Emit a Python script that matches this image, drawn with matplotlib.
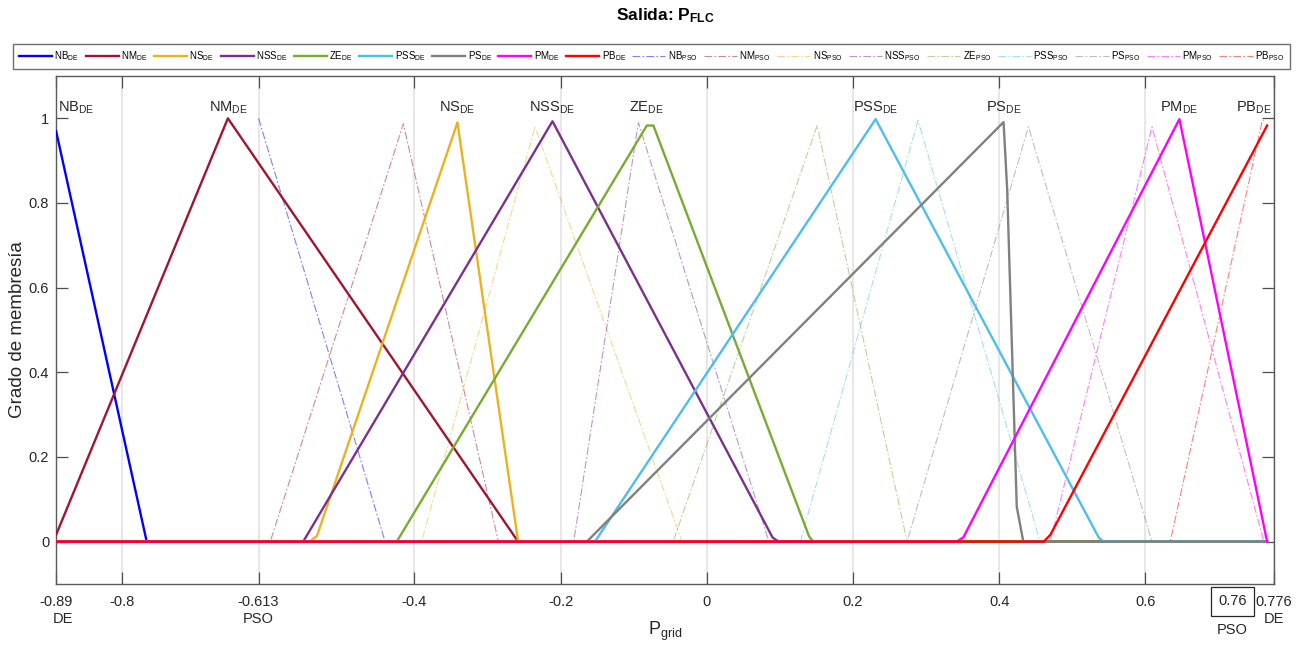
import numpy as np
import matplotlib
matplotlib.use("Agg")
import matplotlib.pyplot as plt

plt.rcParams['font.family'] = ['Liberation Sans', 'DejaVu Sans']
plt.rcParams['mathtext.default'] = 'regular'

# fuzzy set names (output P_FLC)
sets = ['NB', 'NM', 'NS', 'NSS', 'ZE', 'PSS', 'PS', 'PM', 'PB']
colors = ['#0000FF', '#A2142F', '#EDB120', '#7E2F8E', '#77AC30',
          '#4DBEEE', '#808080', '#FF00FF', '#FF0000']

# membership breakpoints tuned by DE
de_x = [[-0.89, -0.766],
        [-0.89, -0.655, -0.258],
        [-0.543, -0.533, -0.341, -0.258],
        [-0.552, -0.211, 0.090, 0.098],
        [-0.424, -0.082, -0.073, 0.140, 0.146],
        [-0.153, 0.231, 0.536, 0.543],
        [-0.164, 0.406, 0.411, 0.424, 0.433],
        [0.342, 0.351, 0.6465, 0.7665],
        [0.461, 0.470, 0.7665]]
de_y = [[0.97, 0.0],
        [0.016, 1.0, 0.0],
        [0.0, 0.014, 0.99, 0.0],
        [0.0, 0.993, 0.01, 0.0],
        [0.0, 0.983, 0.983, 0.012, 0.0],
        [0.0, 0.998, 0.01, 0.0],
        [0.0, 0.991, 0.83, 0.083, 0.0],
        [0.0, 0.01, 0.998, 0.0],
        [0.0, 0.016, 0.983]]

# membership breakpoints tuned by PSO
pso_x = [[-0.613, -0.44],
         [-0.597, -0.415, -0.285],
         [-0.390, -0.235, -0.034],
         [-0.182, -0.0935, 0.085],
         [-0.046, 0.151, 0.274],
         [0.128, 0.289, 0.456],
         [0.274, 0.440, 0.609],
         [0.470, 0.609, 0.762],
         [0.634, 0.76]]
pso_y = [[1.0, 0.0],
         [0.0, 0.987, 0.0],
         [0.0, 0.98, 0.0],
         [0.0, 0.99, 0.0],
         [0.0, 0.983, 0.0],
         [0.0, 0.995, 0.0],
         [0.0, 0.98, 0.0],
         [0.0, 0.98, 0.0],
         [0.0, 0.995]]

de_range = (-0.89, 0.7665)
pso_range = (-0.613, 0.76)

xtick_vals = [-0.89, -0.8, -0.613, -0.4, -0.2, 0, 0.2, 0.4, 0.6, 0.776]
xtick_text = ['-0.89\nDE', '-0.8', '-0.613\nPSO', '-0.4', '-0.2', '0',
              '0.2', '0.4', '0.6', '0.776\nDE']


def universe(lo, hi, xs):
    g = np.linspace(lo, hi, 3000)
    return np.union1d(g, np.concatenate(xs))


fig = plt.figure(figsize=(13.07, 6.46), dpi=100)
ax = fig.add_axes([0.0429, 0.096, 0.9319, 0.7864])

de_handles, pso_handles = [], []

# PSO sets: thin dash-dot, drawn underneath
u = universe(*pso_range, pso_x)
for name, c, xs, ys in zip(sets, colors, pso_x, pso_y):
    mu = np.interp(u, xs, ys, left=ys[0] if xs[0] <= pso_range[0] else 0,
                   right=ys[-1])
    h, = ax.plot(u, mu, color=c, lw=0.8, alpha=0.5,
                 dashes=(7, 2, 1.5, 2), label=name + '$_{PSO}$', zorder=2)
    pso_handles.append(h)

# DE sets: solid lines on top
u = universe(*de_range, de_x)
for name, c, xs, ys in zip(sets, colors, de_x, de_y):
    mu = np.interp(u, xs, ys, left=0, right=ys[-1])
    h, = ax.plot(u, mu, color=c, lw=1.7, label=name + '$_{DE}$', zorder=3)
    de_handles.append(h)

    # name tag above the peak
    k = int(np.argmax(ys))
    if name == 'NB':
        ax.text(de_range[0] + 0.003, 1.005, name + '$_{DE}$', ha='left',
                va='bottom', fontsize=10.5, color='#262626')
    elif name == 'PB':
        ax.text(0.7725, 1.005, name + '$_{DE}$', ha='right',
                va='bottom', fontsize=10.5, color='#262626')
    else:
        ax.text(xs[k], 1.005, name + '$_{DE}$', ha='center',
                va='bottom', fontsize=10.5, color='#262626')

ax.set_xlim(-0.89, 0.776)
ax.set_ylim(-0.1, 1.1)
ax.set_xticks(xtick_vals)
ax.set_xticklabels(xtick_text)
ax.set_yticks([0, 0.2, 0.4, 0.6, 0.8, 1])
ax.set_yticklabels(['0', '0.2', '0.4', '0.6', '0.8', '1'])
ax.tick_params(direction='in', length=8.5, width=0.9, color='#4d4d4d',
               labelsize=10.5, labelcolor='#262626', pad=5,
               top=True, right=True)
ax.tick_params(axis='x', pad=8)
for lbl in ax.get_xticklabels():
    lbl.set_linespacing(1.25)
    if lbl.get_text().startswith('-0.89'):
        lbl.set_multialignment('right')
ax.xaxis.grid(True, color='#e3e3e3', lw=1.2)
ax.set_axisbelow(True)
for s in ax.spines.values():
    s.set_color('#5a5a5a')
    s.set_linewidth(1.0)

# boxed PSO upper bound, shifted left of the 0.776 label
tr = ax.get_xaxis_transform()
ax.text(0.719, -0.034, '0.76', transform=tr, ha='center', va='center',
        fontsize=10.5, color='#262626',
        bbox=dict(boxstyle='square,pad=0.5', fc='white', ec='#262626', lw=0.9))
ax.text(0.719, -0.09, 'PSO', transform=tr, ha='center', va='center',
        fontsize=10.5, color='#262626')

ax.set_ylabel('Grado de membresía', fontsize=13.5, color='#262626', labelpad=2)
ax.set_xlabel('P$_{grid}$', fontsize=13, color='#262626', labelpad=-4)

fig.text(0.509, 1 - 16 / 646, 'Salida: P$_{FLC}$', ha='center', va='center',
         fontsize=12.5, fontweight='bold', color='black')

leg = fig.legend(handles=de_handles + pso_handles, ncol=18,
                 loc='lower left', mode='expand',
                 bbox_to_anchor=(0.01, 0.8927, 0.977, 0.049),
                 fontsize=7, handlelength=3.4, handletextpad=0.25,
                 borderaxespad=0, borderpad=0.6, columnspacing=0.4,
                 frameon=True, fancybox=False, framealpha=1)
leg.get_frame().set_edgecolor('#707070')
leg.get_frame().set_linewidth(1.0)

fig.savefig('out.png', dpi=100)
